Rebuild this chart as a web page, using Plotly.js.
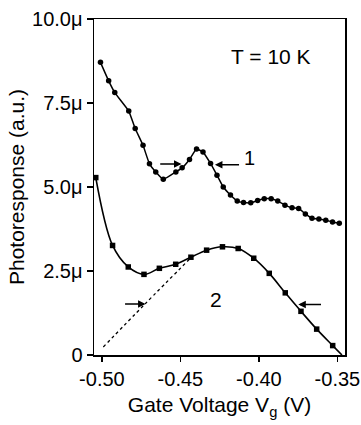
<!DOCTYPE html>
<html>
<head>
<meta charset="utf-8">
<script src="https://cdn.plot.ly/plotly-3.0.1.min.js"></script>
<style>html,body{margin:0;padding:0;background:#fff;}#chart{width:361px;height:425px;}</style>
</head>
<body>
<div id="chart"></div>
<script>
// Curve 1 (circles): gate voltage (V) and photoresponse (units of 1e-6)
var curve1X = [-0.5009,-0.4957,-0.4918,-0.4829,-0.4788,-0.4738,-0.4697,-0.4657,-0.4609,-0.4529,-0.4489,-0.4442,-0.4397,-0.4356,-0.4308,-0.4267,-0.4227,-0.4181,-0.4138,-0.4098,-0.4052,-0.4008,-0.3966,-0.3922,-0.3880,-0.3834,-0.3789,-0.3747,-0.3704,-0.3662,-0.3618,-0.3574,-0.3531,-0.3488];
var curve1Y = [8.71,8.16,7.81,7.26,6.74,6.24,5.69,5.45,5.23,5.45,5.57,5.82,6.13,6.04,5.70,5.35,5.00,4.76,4.58,4.54,4.53,4.60,4.65,4.65,4.58,4.46,4.38,4.36,4.20,4.07,4.05,4.01,3.96,3.92];

// Curve 2 (squares): measured points
var curve2X = [-0.5039,-0.4932,-0.4832,-0.4732,-0.4634,-0.4530,-0.4433,-0.4333,-0.4232,-0.4132,-0.4033,-0.3934,-0.3832,-0.3732,-0.3632,-0.3530];
var curve2Y = [5.28,3.26,2.62,2.40,2.58,2.70,2.91,3.12,3.22,3.17,2.88,2.43,1.85,1.30,0.77,0.28];

// Curve 2 fitted line end
var fitEndX = [-0.3471];
var fitEndY = [0];

// Dotted component of curve 2
var dottedX = [-0.4991,-0.4725,-0.4432];
var dottedY = [0.24,1.52,2.90];

// Axis ticks
var xTickVals = [-0.50,-0.45,-0.40,-0.35];
var xTickText = ["-0.50","-0.45","-0.40","-0.35"];
var yTickVals = [0,2.5,5.0,7.5,10.0];
var yTickText = ["0","2.5μ","5.0μ","7.5μ","10.0μ"];

var font = "Arial, 'Liberation Sans', sans-serif";

var traces = [
  {x: dottedX, y: dottedY, mode: 'lines', line: {color: '#000', width: 1.3, dash: 'dot', shape: 'spline'}, hoverinfo: 'skip'},
  {x: curve2X.concat(fitEndX), y: curve2Y.concat(fitEndY), mode: 'lines', line: {color: '#000', width: 1.6, shape: 'spline', smoothing: 1}, hoverinfo: 'skip'},
  {x: curve2X, y: curve2Y, mode: 'markers', marker: {symbol: 'square', size: 5.5, color: '#000'}},
  {x: curve1X, y: curve1Y, mode: 'lines+markers', line: {color: '#000', width: 1.5, shape: 'spline', smoothing: 0.4}, marker: {symbol: 'circle', size: 5.5, color: '#000'}}
];

function arrow(tailX, tipX, y) {
  return {x: tipX, y: y, ax: tailX, ay: y, xref: 'x', yref: 'y', axref: 'x', ayref: 'y',
    showarrow: true, arrowhead: 2, arrowsize: 1, arrowwidth: 1.5, arrowcolor: '#000', text: ''};
}

var layout = {
  width: 361, height: 425,
  margin: {l: 94, r: 16, t: 19, b: 70},
  paper_bgcolor: '#fff', plot_bgcolor: '#fff',
  showlegend: false,
  font: {family: font, size: 20, color: '#000'},
  xaxis: {
    range: [-0.50503, -0.34516], tickvals: xTickVals, ticktext: xTickText,
    ticks: 'outside', ticklen: 5, tickwidth: 1.5, tickcolor: '#000',
    showline: true, linecolor: '#000', linewidth: 1.5, mirror: true,
    showgrid: false, zeroline: false,
    tickfont: {family: font, size: 20},
    title: {text: 'Gate Voltage V<sub>g</sub> (V)', font: {family: font, size: 21}, standoff: 9}
  },
  yaxis: {
    range: [0, 10], tickvals: yTickVals, ticktext: yTickText,
    ticks: 'outside', ticklen: 6, tickwidth: 1.5, tickcolor: '#000',
    showline: true, linecolor: '#000', linewidth: 1.5, mirror: true,
    showgrid: false, zeroline: false,
    tickfont: {family: font, size: 20},
    title: {text: 'Photoresponse (a.u.)', font: {family: font, size: 21}, standoff: 1}
  },
  annotations: [
    {x: 0.705, y: 0.887, xref: 'paper', yref: 'paper', text: 'T = 10 K', showarrow: false, font: {family: font, size: 21}, xanchor: 'center', yanchor: 'middle'},
    {x: -0.4057, y: 5.86, xref: 'x', yref: 'y', text: '1', showarrow: false, font: {family: font, size: 20}, xanchor: 'center', yanchor: 'middle'},
    {x: -0.4276, y: 1.64, xref: 'x', yref: 'y', text: '2', showarrow: false, font: {family: font, size: 21}, xanchor: 'center', yanchor: 'middle'},
    arrow(-0.4638, -0.4493, 5.684),
    arrow(-0.4117, -0.4280, 5.661),
    arrow(-0.4862, -0.4722, 1.518),
    arrow(-0.3595, -0.3749, 1.503)
  ]
};

Plotly.newPlot('chart', traces, layout, {displayModeBar: false, staticPlot: true});
</script>
</body>
</html>
